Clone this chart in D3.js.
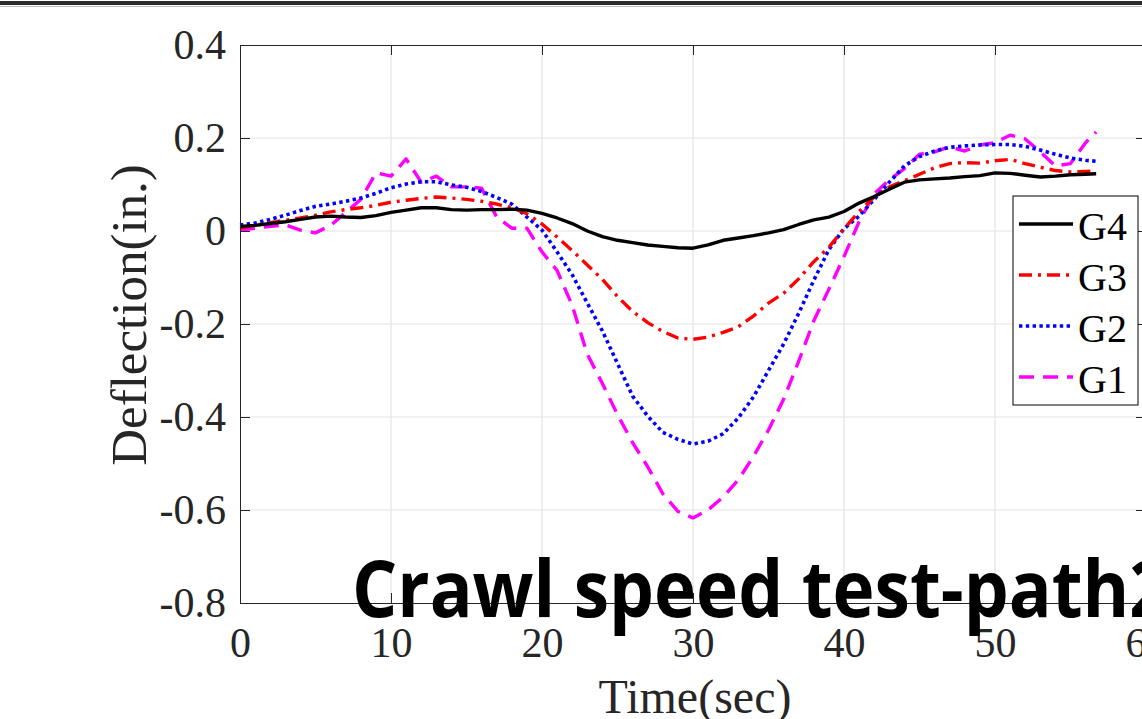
<!DOCTYPE html>
<html>
<head>
<meta charset="utf-8">
<script src="https://cdn.jsdelivr.net/npm/d3@7"></script>
<style>
  body { margin: 0; background: #fff; overflow: hidden; }
  svg { display: block; }
</style>
</head>
<body>
<svg width="1142" height="719"></svg>
<script>
// **** Data ****

var time = [0, 1, 2, 3, 4, 5, 6, 7, 8, 9, 10, 11, 12, 13, 14, 15, 16, 17, 18, 19,
    20, 21, 22, 23, 24, 25, 26, 27, 28, 29, 30, 31, 32, 33, 34, 35, 36, 37, 38, 39,
    40, 41, 42, 43, 44, 45, 46, 47, 48, 49, 50, 51, 52, 53, 54, 55, 56, 56.7];

var g4 = [0.010, 0.012, 0.016, 0.020, 0.025, 0.030, 0.032, 0.030, 0.029, 0.033,
    0.040, 0.045, 0.050, 0.050, 0.046, 0.045, 0.046, 0.046, 0.047, 0.045,
    0.038, 0.028, 0.016, 0.000, -0.012, -0.020, -0.025, -0.030, -0.033, -0.036,
    -0.037, -0.030, -0.020, -0.015, -0.010, -0.004, 0.003, 0.014, 0.024, 0.030,
    0.042, 0.060, 0.074, 0.090, 0.105, 0.110, 0.112, 0.114, 0.117, 0.119,
    0.125, 0.124, 0.120, 0.116, 0.118, 0.121, 0.122, 0.123];

var g3 = [0.007, 0.012, 0.018, 0.023, 0.028, 0.034, 0.041, 0.046, 0.050, 0.055,
    0.062, 0.066, 0.070, 0.073, 0.071, 0.068, 0.064, 0.058, 0.050, 0.037,
    0.015, -0.013, -0.042, -0.073, -0.104, -0.141, -0.173, -0.197, -0.216, -0.230,
    -0.233, -0.228, -0.218, -0.206, -0.183, -0.155, -0.134, -0.103, -0.066, -0.035,
    0.005, 0.042, 0.073, 0.095, 0.108, 0.122, 0.136, 0.145, 0.147, 0.146,
    0.151, 0.154, 0.145, 0.137, 0.130, 0.127, 0.128, 0.129];

var g2 = [0.013, 0.017, 0.025, 0.034, 0.044, 0.053, 0.058, 0.064, 0.071, 0.081,
    0.093, 0.101, 0.106, 0.106, 0.099, 0.094, 0.085, 0.072, 0.058, 0.030,
    0.002, -0.045, -0.094, -0.155, -0.215, -0.285, -0.355, -0.398, -0.433, -0.448,
    -0.458, -0.452, -0.436, -0.402, -0.357, -0.300, -0.243, -0.177, -0.106, -0.040,
    0.005, 0.032, 0.068, 0.105, 0.140, 0.160, 0.172, 0.180, 0.183, 0.185,
    0.186, 0.186, 0.182, 0.174, 0.165, 0.157, 0.152, 0.150];

var g1 = [0.002, 0.006, 0.010, 0.013, 0.002, -0.004, 0.012, 0.040, 0.068, 0.125,
    0.118, 0.155, 0.105, 0.118, 0.095, 0.095, 0.092, 0.030, 0.006, 0.006,
    -0.045, -0.085, -0.160, -0.265, -0.328, -0.395, -0.455, -0.507, -0.565, -0.603,
    -0.617, -0.600, -0.572, -0.535, -0.485, -0.428, -0.362, -0.280, -0.193, -0.125,
    -0.055, 0.020, 0.080, 0.110, 0.134, 0.165, 0.170, 0.181, 0.172, 0.185,
    0.190, 0.206, 0.198, 0.170, 0.140, 0.145, 0.190, 0.213];

var seriesNames = ["G4", "G3", "G2", "G1"];
var xTicks = [0, 10, 20, 30, 40, 50, 60];
var yTicks = [-0.8, -0.6, -0.4, -0.2, 0, 0.2, 0.4];

// **** Styles ****

var seriesStyle = {
    G4: { values: g4, color: "#000000", dash: null, width: 3.4 },
    G3: { values: g3, color: "#ff0000", dash: "13,6,3,6", width: 3.4 },
    G2: { values: g2, color: "#0000ff", dash: "3.4,3.4", width: 3.6 },
    G1: { values: g1, color: "#ff00ff", dash: "15,9", width: 3.4 }
};

var plotLeft = 240, plotRight = 1146, plotTop = 45, plotBottom = 603;

var xScale = d3.scaleLinear().domain([0, 60]).range([plotLeft, plotRight]);
var yScale = d3.scaleLinear().domain([-0.8, 0.4]).range([plotBottom, plotTop]);

var svg = d3.select("svg");

// top border strip of the screenshot
svg.append("rect")
    .attr("x", 0).attr("y", 1)
    .attr("width", 1142).attr("height", 4)
    .attr("fill", "#2b2b2b");
svg.append("line")
    .attr("x1", 0).attr("x2", 1142)
    .attr("y1", 6.5).attr("y2", 6.5)
    .attr("stroke", "#bdbdbd").attr("stroke-width", 1);

// **** Grid ****

svg.append("g").selectAll("line")
    .data(xTicks.slice(1))
    .enter().append("line")
    .attr("x1", d => xScale(d)).attr("x2", d => xScale(d))
    .attr("y1", plotTop).attr("y2", plotBottom)
    .attr("stroke", "#e3e3e3").attr("stroke-width", 1.2);

svg.append("g").selectAll("line")
    .data(yTicks.slice(1, -1))
    .enter().append("line")
    .attr("x1", plotLeft).attr("x2", plotRight)
    .attr("y1", d => yScale(d)).attr("y2", d => yScale(d))
    .attr("stroke", "#e3e3e3").attr("stroke-width", 1.2);

// **** Lines ****

var plot = svg.append("g");

seriesNames.slice().reverse().forEach(function(name) {
    var s = seriesStyle[name];
    var line = d3.line()
        .x((d, i) => xScale(time[i]))
        .y(d => yScale(d));
    plot.append("path")
        .datum(s.values)
        .attr("d", line)
        .attr("fill", "none")
        .attr("stroke", s.color)
        .attr("stroke-width", s.width)
        .attr("stroke-dasharray", s.dash)
        .attr("stroke-linejoin", "round");
});

// **** Axes ****

var axisColor = "#262626";
var tickFont = "'Liberation Serif', 'Times New Roman', serif";

svg.append("g")
    .attr("transform", `translate(0,${plotBottom})`)
    .call(d3.axisBottom(xScale).tickValues(xTicks).tickFormat(d => String(d))
        .tickSizeInner(-10).tickSizeOuter(0).tickPadding(24));

svg.append("g")
    .attr("transform", `translate(${plotLeft},0)`)
    .call(d3.axisLeft(yScale).tickValues(yTicks).tickFormat(d => d === 0 ? "0" : d.toFixed(1))
        .tickSizeInner(-10).tickSizeOuter(0).tickPadding(14));

svg.append("g")
    .attr("transform", `translate(0,${plotTop})`)
    .call(d3.axisTop(xScale).tickValues(xTicks).tickFormat("")
        .tickSizeInner(-10).tickSizeOuter(0));

svg.append("g")
    .attr("transform", `translate(${plotRight},0)`)
    .call(d3.axisRight(yScale).tickValues(yTicks).tickFormat("")
        .tickSizeInner(-10).tickSizeOuter(0));

svg.selectAll(".domain").attr("stroke", axisColor).attr("stroke-width", 1);
svg.selectAll(".tick line").attr("stroke", axisColor).attr("stroke-width", 1);
svg.selectAll(".tick text")
    .attr("fill", axisColor)
    .style("font-family", tickFont)
    .style("font-size", "42px");

// **** Labels ****

svg.append("text")
    .attr("text-anchor", "middle")
    .attr("x", 695)
    .attr("y", 713)
    .style("font-family", tickFont)
    .style("font-size", "48px")
    .attr("fill", axisColor)
    .text("Time(sec)");

svg.append("text")
    .attr("text-anchor", "middle")
    .attr("transform", "translate(146,315) rotate(-90)")
    .style("font-family", tickFont)
    .style("font-size", "51px")
    .attr("fill", axisColor)
    .text("Deflection(in.)");

// **** Legend ****

var legend = svg.append("g");

legend.append("rect")
    .attr("x", 1013).attr("y", 196)
    .attr("width", 125).attr("height", 209)
    .attr("fill", "#fff")
    .attr("stroke", "#000").attr("stroke-width", 1);

var entry = legend.selectAll(".entry")
    .data(seriesNames)
    .enter().append("g")
    .attr("class", "entry")
    .attr("transform", (d, i) => `translate(0,${224 + i * 51})`);

entry.append("line")
    .attr("x1", 1019).attr("x2", 1073)
    .attr("stroke", d => seriesStyle[d].color)
    .attr("stroke-width", d => seriesStyle[d].width)
    .attr("stroke-dasharray", d => seriesStyle[d].dash);

entry.append("text")
    .attr("x", 1078)
    .attr("y", 16)
    .style("font-family", tickFont)
    .style("font-size", "40px")
    .attr("fill", "#000")
    .text(d => d);

// **** Title overlay ****

svg.append("text")
    .attr("x", 352)
    .attr("y", 617)
    .attr("textLength", 818)
    .attr("lengthAdjust", "spacingAndGlyphs")
    .style("font-family", "'Open Sans', 'Noto Sans', sans-serif")
    .style("font-weight", "700")
    .style("font-size", "78px")
    .attr("fill", "#000")
    .text("Crawl speed test-path2");
</script>
</body>
</html>
